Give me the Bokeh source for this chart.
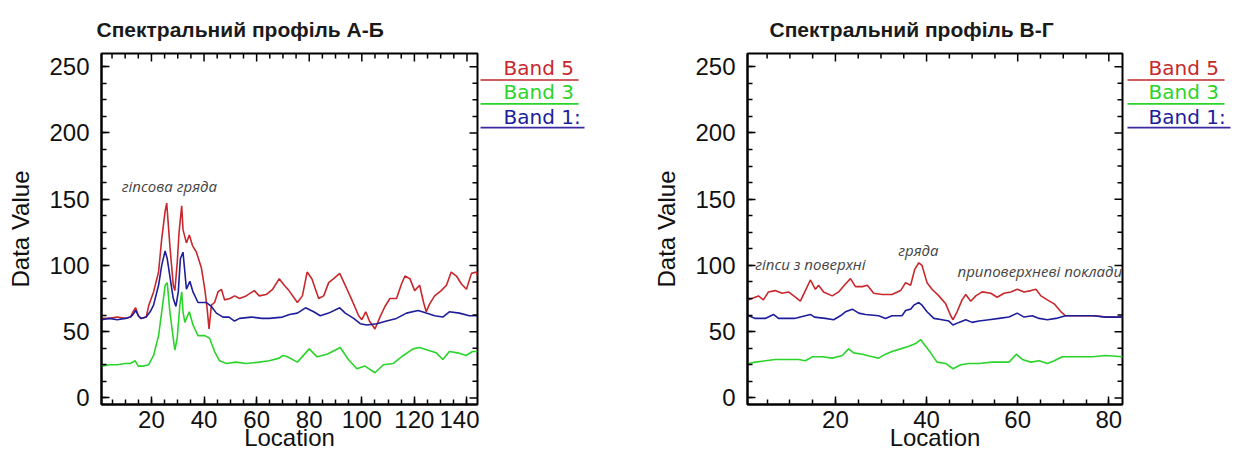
import numpy as np
from bokeh.plotting import figure
from bokeh.layouts import row
from bokeh.models import Range1d, SingleIntervalTicker, Label
from bokeh.core.properties import value
from bokeh.embed import file_html
from bokeh.resources import INLINE

# ---------------- data: profile A-Б ----------------
ab_loc_b5 = [1, 4, 7, 10, 12, 13, 14, 15, 16, 18, 19, 20.8, 22.7, 23.9, 25.2, 25.8, 27, 28.3, 28.9, 29.8,
             30.5, 31.5, 32, 33.3, 34.4, 35.6, 37.1, 39, 40.3, 41.2, 41.9, 42.8, 44, 45.3, 46.6, 47.8,
             49.8, 51.7, 53.5, 56, 59.1, 61, 63.6, 66.1, 68.6, 70.5, 72.3, 75.5, 77.4, 79.2, 81, 83.6,
             85.5, 87.4, 89.3, 91.6, 93.7, 96.2, 98.8, 100, 101.5, 102.9, 105, 106.9, 108.8, 110.7,
             113.2, 115.1, 116.4, 118.3, 120.1, 122, 123.5, 124.5, 125.8, 127.7, 130.2, 132.2, 134,
             136, 137.9, 139.8, 141.7, 143.6, 144]
ab_b5 = [60, 60, 61, 60, 61, 65, 68, 62, 60, 61, 70, 80, 95, 120, 141, 147, 115, 85, 81, 102,
         125, 145, 127, 117, 123, 115, 110, 98, 82, 67, 52, 70, 72, 80, 82, 74,
         75, 77, 75, 77, 81, 77, 78, 82, 90, 85, 81, 72, 77, 95, 90, 75,
         77, 87, 90, 94, 85, 74, 62, 59, 65, 58, 52, 61, 69, 75,
         75, 86, 92, 90, 81, 85, 72, 65, 71, 77, 81, 85, 95,
         92, 86, 82, 94, 95, 92]

ab_loc_b3 = [1, 4, 7, 10, 12, 13.8, 15, 17, 18.9, 20.8, 22.7, 23.9, 25.2, 26, 27, 28.3, 28.9, 29.8, 30.8,
             31.5, 32, 32.7, 34.4, 35.8, 37.7, 40.3, 42.1, 44, 45.9, 48.5, 52.2, 56, 61, 64.8, 68.6,
             70, 71.7, 75.5, 80, 83, 86.8, 91.8, 94.9, 98.1, 101.2, 105, 108.2, 112, 115.8, 119.5,
             122, 125.2, 128.3, 130.8, 133.3, 136.5, 139.6, 142.1, 144]
ab_b3 = [24, 25, 25, 26, 26, 28, 24, 24, 25, 32, 47, 65, 85, 87, 65, 45, 36, 45, 70,
         80, 65, 57, 65, 55, 47, 47, 45, 35, 28, 26, 27, 26, 27, 28, 30,
         32, 31, 27, 37, 31, 33, 38, 29, 22, 24, 19, 25, 26, 32, 37,
         38, 36, 34, 29, 35, 34, 32, 35, 35]

ab_loc_b1 = [1, 4, 7, 10, 12, 13, 14, 15, 16, 18, 19.5, 20.8, 22.7, 23.9, 25.2, 26, 27, 28.3, 29.3, 30.2,
             31, 32, 32.7, 33.3, 34.6, 35.8, 37.7, 40.9, 42.8, 44.7, 47.2, 49.5, 51.6, 53.5, 58, 62,
             64.8, 69.8, 72.5, 75.5, 78.6, 81.7, 84.2, 87.4, 91.6, 93.7, 96.9, 99.4, 101.9, 105.7,
             109.4, 113.2, 117, 121.4, 124.5, 127.7, 130.8, 133.3, 137.1, 140.9, 144]
ab_b1 = [59, 60, 59, 60, 61, 63, 66, 62, 60, 61, 65, 70, 85, 100, 111, 105, 92, 75, 69, 80,
         105, 110, 95, 82, 88, 80, 72, 72, 69, 64, 61, 61, 58, 60, 61, 60,
         60, 61, 63, 64, 68, 65, 62, 64, 68, 64, 60, 56, 55, 56,
         58, 60, 64, 66, 64, 62, 61, 65, 64, 62, 62]

# ---------------- data: profile В-Г ----------------
vg_loc_b5 = [1, 1.7, 3.1, 4.2, 5.3, 6.8, 8.3, 9.7, 11.2, 12.3, 13.4, 14.5, 15.6, 16.3, 17.4, 19.3, 20.7,
             22.2, 23.3, 24.4, 25.9, 27, 28.4, 30.3, 32.4, 34.3, 35.4, 36.5, 37.4, 38.3, 39, 40.1,
             41.2, 42.7, 44.2, 45.3, 45.8, 46.7, 47.8, 48.6, 49.7, 50.8, 52.2, 54.1, 55.5, 57, 58.5,
             59.9, 61.4, 62.9, 64, 65.1, 66.5, 68, 69.5, 70.5, 72.7, 74.9, 77, 79.3, 81.5, 83]
vg_b5 = [74, 75, 77, 74, 80, 81, 79, 80, 76, 73, 81, 89, 82, 85, 80, 77, 80,
         86, 90, 84, 84, 85, 79, 78, 78, 81, 87, 85, 97, 102, 100, 87,
         82, 77, 71, 62, 59, 65, 74, 78, 73, 77, 80, 79, 76, 79, 80,
         82, 80, 81, 82, 77, 74, 71, 65, 62, 62, 62, 62, 61, 61, 61]

vg_loc_b3 = [1, 2.4, 4.6, 6.8, 9.7, 11.9, 13.4, 14.9, 17.1, 19.3, 21.5, 22.9, 24, 25.9, 28.1, 29.5, 31,
             32.4, 34.3, 36.1, 37.6, 38.7, 39.8, 40.9, 42.3, 44.2, 45.8, 47.5, 49.3, 51.5, 54.4, 58.1,
             59.7, 61, 62.9, 64.7, 66.5, 68, 69.8, 72.7, 76.5, 79.3, 83]
vg_b3 = [26, 27, 28, 29, 29, 29, 28, 31, 31, 30, 32, 37, 34, 33, 31, 30, 33,
         35, 37, 39, 41, 44, 39, 34, 27, 26, 22, 25, 26, 26, 27, 27,
         33, 29, 27, 28, 26, 28, 31, 31, 31, 32, 31]

vg_loc_b1 = [1, 2.4, 4.6, 6.4, 7.5, 11, 14.5, 15.4, 17.8, 19.6, 21.1, 22.2, 23.7, 25.1, 26.6, 29.5, 31,
             32.4, 34.6, 35.4, 36.5, 37.2, 38.3, 39, 40.1, 41.6, 43.4, 44.9, 45.8, 47.1, 48.6, 50,
             51.5, 53.7, 55.9, 58.1, 59.9, 61.4, 63.2, 64.7, 66.5, 68.4, 70.5, 73.5, 76.5, 79.3, 83]
vg_b1 = [62, 60, 60, 63, 60, 60, 63, 61, 60, 59, 62, 65, 67, 64, 63, 62, 60,
         62, 62, 66, 67, 70, 72, 70, 65, 60, 59, 58, 55, 57, 59, 57,
         58, 59, 60, 61, 64, 61, 62, 60, 59, 60, 62, 62, 62, 61, 61]

band_names = ["Band 5", "Band 3", "Band 1:"]
band_colors = ["#c8282c", "#2ad42a", "#1e1e9a"]
legend_line_colors = ["#c0282c", "#2ad42a", "#3a2aa0"]

titles = ["Спектральний профіль А-Б", "Спектральний профіль В-Г"]
x_ticks_step = 20
y_ticks_step = 50
Y_MIN, Y_MAX = -5, 260

H = 453
TICK_FONT = "Liberation Sans"


def make_panel(title, xr, series, width, bl, br, title_offset):
    p = figure(width=width, height=H, x_range=Range1d(*xr), y_range=Range1d(Y_MIN, Y_MAX),
               output_backend="svg", toolbar_location=None,
               min_border_left=bl, min_border_right=br, min_border_top=53, min_border_bottom=46)
    p.title.text = title
    p.title.align = "left"
    p.title.offset = title_offset
    p.title.text_font = "Liberation Sans"
    p.title.text_font_style = "bold"
    p.title.text_font_size = "21px"
    p.title.text_color = "#1a1a1a"
    p.title.text_line_height = 0.9
    p.title.standoff = 26
    p.xgrid.visible = False
    p.ygrid.visible = False
    p.outline_line_color = "black"
    p.outline_line_width = 2
    p.background_fill_color = "white"
    p.border_fill_color = "white"

    for (xs, ys), c in zip(series, band_colors):
        p.line(xs, ys, line_color=c, line_width=1.6)

    for ax in (p.xaxis[0], p.yaxis[0]):
        ax.major_tick_in = 8
        ax.major_tick_out = 0
        ax.minor_tick_in = 5
        ax.minor_tick_out = 0
        ax.axis_line_color = "black"
        ax.axis_line_width = 2
        ax.major_tick_line_color = "black"
        ax.major_tick_line_width = 1.5
        ax.minor_tick_line_color = "black"
        ax.minor_tick_line_width = 1.5
        ax.major_label_text_font = TICK_FONT
        ax.major_label_text_font_size = "24px"
        ax.major_label_text_color = "#111111"
        ax.axis_label_text_font = TICK_FONT
        ax.axis_label_text_font_size = "24px"
        ax.axis_label_text_font_style = "normal"
        ax.axis_label_text_color = "#111111"

    p.xaxis.ticker = SingleIntervalTicker(interval=x_ticks_step, num_minor_ticks=4)
    p.yaxis.ticker = SingleIntervalTicker(interval=y_ticks_step, num_minor_ticks=4)
    p.xaxis.axis_label = "Location"
    p.yaxis.axis_label = "Data Value"
    p.xaxis.major_label_standoff = 6
    p.xaxis.axis_label_standoff = -7
    p.yaxis.major_label_standoff = 12
    p.yaxis.axis_label_standoff = 12

    # mirrored ticks on the top and right edges of the box
    x_minor = x_ticks_step / 4
    xt = np.arange(np.ceil(xr[0] / x_minor) * x_minor, xr[1] + 1e-9, x_minor)
    xt_major = xt[np.isclose(xt % x_ticks_step, 0) | np.isclose(xt % x_ticks_step, x_ticks_step)]
    xt_minor = np.array([t for t in xt if t not in xt_major])
    p.ray(x=xt_major, y=Y_MAX, length=8, length_units="screen", angle=-np.pi / 2,
          line_color="black", line_width=1.5)
    p.ray(x=xt_minor, y=Y_MAX, length=5, length_units="screen", angle=-np.pi / 2,
          line_color="black", line_width=1.5)
    y_minor = y_ticks_step / 4
    yt = np.arange(0, Y_MAX + 1e-9, y_minor)
    yt_major = yt[np.isclose(yt % y_ticks_step, 0)]
    yt_minor = np.array([t for t in yt if t not in yt_major])
    p.ray(x=xr[1], y=yt_major, length=8, length_units="screen", angle=np.pi,
          line_color="black", line_width=1.5)
    p.ray(x=xr[1], y=yt_minor, length=5, length_units="screen", angle=np.pi,
          line_color="black", line_width=1.5)
    return p


def make_legend(width, text_x, line_x0, line_x1, line_x1_last):
    # frame is aligned with the neighbouring plot, so share its value scale vertically
    lg = figure(width=width, height=H, x_range=Range1d(0, width), y_range=Range1d(Y_MIN, Y_MAX),
                output_backend="svg", toolbar_location=None, min_border=0)
    lg.axis.visible = False
    lg.grid.visible = False
    lg.outline_line_color = None
    lg.background_fill_color = "white"
    lg.border_fill_color = "white"
    text_y = [249, 231, 212]
    line_y = [240, 222, 204]
    lg.text(x=[text_x] * 3, y=text_y, text=band_names, text_color=band_colors,
            text_font=value("DejaVu Sans"), text_font_size="20px",
            text_baseline="middle", text_align="left")
    lg.segment(x0=[line_x0] * 3, x1=[line_x1, line_x1, line_x1_last], y0=line_y, y1=line_y,
               line_color=legend_line_colors, line_width=1.6)
    return lg


def note(p, x, y, text, align="left"):
    p.add_layout(Label(x=x, y=y, text=text, text_font="Open Sans", text_font_style="italic",
                       text_font_size="15px", text_color="#444444", text_baseline="middle",
                       text_align=align))


p1 = make_panel(titles[0], (1, 144),
                [(ab_loc_b5, ab_b5), (ab_loc_b3, ab_b3), (ab_loc_b1, ab_b1)],
                width=479, bl=101, br=2, title_offset=-5)
note(p1, 8.7, 160, "гіпсова гряда")
leg1 = make_legend(149, 24, 1, 99, 105)

p2 = make_panel(titles[1], (0.7, 83),
                [(vg_loc_b5, vg_b5), (vg_loc_b3, vg_b3), (vg_loc_b1, vg_b1)],
                width=496, bl=119, br=2, title_offset=22)
note(p2, 2.4, 101, "гіпси з поверхні")
note(p2, 38.2, 112, "гряда", align="center")
note(p2, 46.8, 96, "приповерхневі поклади")
leg2 = make_legend(108, 24, 3, 100, 106)

layout = row(p1, leg1, p2, leg2)
open("out.html", "w").write(file_html(layout, INLINE))
